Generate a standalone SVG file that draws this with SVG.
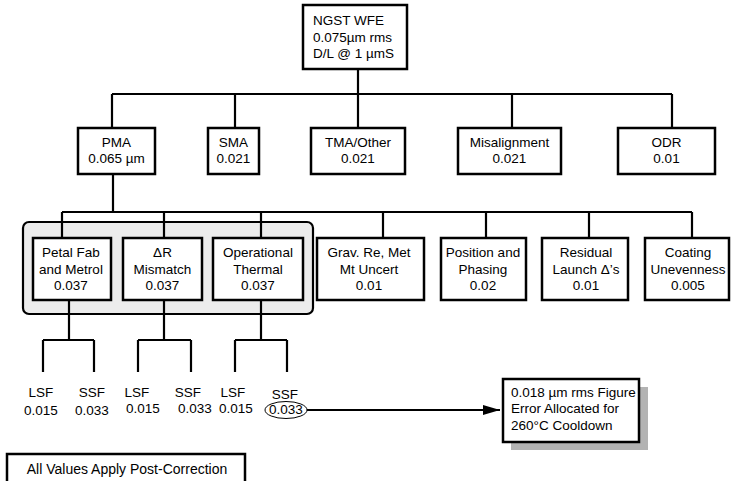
<svg xmlns="http://www.w3.org/2000/svg" width="732" height="481" viewBox="0 0 732 481">
<defs>
<style>
text{font-family:"Liberation Sans",Arial,sans-serif;font-size:13.5px;fill:#000}
.c{text-anchor:middle}
.box{fill:#fff;stroke:#000;stroke-width:2.5}
.ln{stroke:#000;stroke-width:2.2;fill:none}
</style>
<marker id="ah" markerWidth="18" markerHeight="12" refX="17" refY="6" orient="auto" markerUnits="userSpaceOnUse">
<path d="M0,1 L17,6 L0,11 Z" fill="#000"/>
</marker>
</defs>
<rect width="732" height="481" fill="#fff"/>

<g id="panel">
<rect x="23" y="222" width="290" height="92" rx="6" fill="#ececec" stroke="#000" stroke-width="2.2"/>
</g>

<g id="connectors">
<path class="ln" d="M358,69V128M112,94H672M112,94V128M235,94V128M512,94V128M672,94V128"/>
<path class="ln" d="M113,174V212M62,212H692M62,212V238M164,212V238M261,212V238M383,212V238M486,212V238M589,212V238M692,212V238"/>
<path class="ln" d="M69,300V340M43,340H94M43,340V372M94,340V372"/>
<path class="ln" d="M164,300V340M138,340H191M138,340V372M191,340V372"/>
<path class="ln" d="M261,300V340M235,340H287M235,340V372M287,340V372"/>
<path class="ln" d="M307,410H500" marker-end="url(#ah)"/>
</g>

<g id="n-top">
<rect class="box" x="303" y="5" width="104" height="64"/>
<text x="313" y="25">NGST WFE</text>
<text x="313" y="41.5">0.075µm rms</text>
<text x="313" y="58">D/L @ 1 µmS</text>
</g>

<g id="n-pma">
<rect class="box" x="78" y="128" width="77" height="46"/>
<text class="c" x="116.5" y="147">PMA</text>
<text class="c" x="116.5" y="163">0.065 µm</text>
</g>
<g id="n-sma">
<rect class="box" x="208" y="128" width="51" height="46"/>
<text class="c" x="233.5" y="147">SMA</text>
<text class="c" x="233.5" y="163">0.021</text>
</g>
<g id="n-tma">
<rect class="box" x="311" y="128" width="94" height="46"/>
<text class="c" x="358" y="147">TMA/Other</text>
<text class="c" x="358" y="163">0.021</text>
</g>
<g id="n-mis">
<rect class="box" x="458" y="128" width="103" height="46"/>
<text class="c" x="509.5" y="147">Misalignment</text>
<text class="c" x="509.5" y="163">0.021</text>
</g>
<g id="n-odr">
<rect class="box" x="618" y="128" width="97" height="46"/>
<text class="c" x="666.5" y="147">ODR</text>
<text class="c" x="666.5" y="163">0.01</text>
</g>

<g id="n-petal">
<rect class="box" x="33" y="238" width="78" height="62"/>
<text class="c" x="71" y="257">Petal Fab</text>
<text class="c" x="71" y="273.5">and Metrol</text>
<text class="c" x="71" y="290">0.037</text>
</g>
<g id="n-dr">
<rect class="box" x="123" y="238" width="79" height="62"/>
<text class="c" x="162.5" y="257">ΔR</text>
<text class="c" x="162.5" y="273.5">Mismatch</text>
<text class="c" x="162.5" y="290">0.037</text>
</g>
<g id="n-op">
<rect class="box" x="213" y="238" width="90" height="62"/>
<text class="c" x="258" y="257">Operational</text>
<text class="c" x="258" y="273.5">Thermal</text>
<text class="c" x="258" y="290">0.037</text>
</g>
<g id="n-grav">
<rect class="box" x="317" y="238" width="107" height="62"/>
<text class="c" x="369" y="257">Grav. Re, Met</text>
<text class="c" x="369" y="273.5">Mt Uncert</text>
<text class="c" x="369" y="290">0.01</text>
</g>
<g id="n-pos">
<rect class="box" x="441" y="238" width="85" height="62"/>
<text class="c" x="483" y="257">Position and</text>
<text class="c" x="483" y="273.5">Phasing</text>
<text class="c" x="483" y="290">0.02</text>
</g>
<g id="n-res">
<rect class="box" x="542" y="238" width="86" height="62"/>
<text class="c" x="586" y="257">Residual</text>
<text class="c" x="586" y="273.5">Launch Δ’s</text>
<text class="c" x="586" y="290">0.01</text>
</g>
<g id="n-coat">
<rect class="box" x="645" y="238" width="84" height="62"/>
<text class="c" x="688" y="257">Coating</text>
<text class="c" x="688" y="273.5">Unevenness</text>
<text class="c" x="688" y="290">0.005</text>
</g>

<g id="leaves">
<text class="c" x="41" y="397">LSF</text>
<text class="c" x="41" y="415">0.015</text>
<text class="c" x="92" y="397">SSF</text>
<text class="c" x="92" y="415">0.033</text>
<text class="c" x="137" y="397">LSF</text>
<text class="c" x="143" y="413">0.015</text>
<text class="c" x="188" y="397">SSF</text>
<text class="c" x="195" y="413">0.033</text>
<text class="c" x="233" y="397">LSF</text>
<text class="c" x="236" y="413">0.015</text>
<text class="c" x="285" y="399">SSF</text>
<text class="c" x="286" y="414">0.033</text>
<ellipse cx="286" cy="410" rx="21" ry="8.5" fill="none" stroke="#000" stroke-width="1"/>
</g>

<g id="n-callout">
<rect x="511" y="387" width="137" height="63" fill="#b3b3b3"/>
<rect class="box" x="503" y="379" width="136" height="63"/>
<text x="511" y="397">0.018 µm rms Figure</text>
<text x="511" y="413">Error Allocated for</text>
<text x="511" y="430">260°C Cooldown</text>
</g>

<g id="n-note">
<rect class="box" x="7" y="454" width="238" height="34"/>
<text class="c" x="127" y="474" style="font-size:14px">All Values Apply Post-Correction</text>
</g>
</svg>
